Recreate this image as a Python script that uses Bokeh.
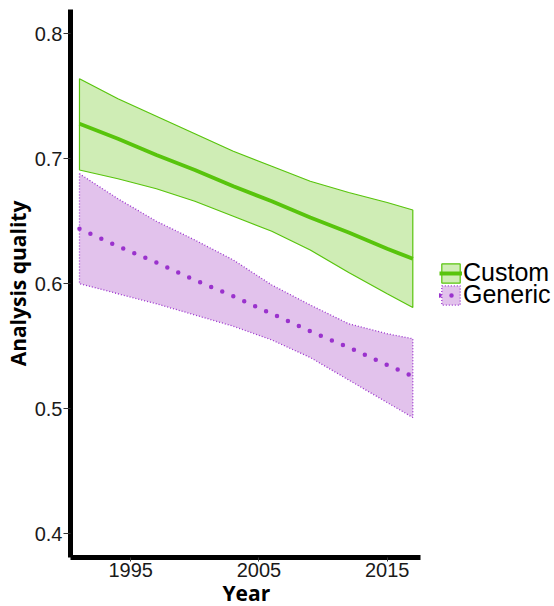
from bokeh.plotting import figure
from bokeh.models import Range1d, FixedTicker, Legend, LegendItem, Title
from bokeh.embed import file_html
from bokeh.resources import INLINE

years = [1991, 1994, 1997, 2000, 2003, 2006, 2009, 2012, 2015, 2017]
custom_fit = [0.728, 0.716, 0.703, 0.691, 0.678, 0.666, 0.653, 0.641, 0.628, 0.620]
custom_upper = [0.764, 0.748, 0.734, 0.720, 0.706, 0.694, 0.682, 0.673, 0.665, 0.659]
custom_lower = [0.691, 0.684, 0.676, 0.666, 0.654, 0.642, 0.627, 0.609, 0.592, 0.581]
generic_fit = [0.644, 0.630, 0.617, 0.603, 0.590, 0.576, 0.562, 0.549, 0.535, 0.526]
generic_upper = [0.688, 0.668, 0.650, 0.635, 0.619, 0.599, 0.583, 0.568, 0.560, 0.556]
generic_lower = [0.600, 0.592, 0.584, 0.575, 0.566, 0.555, 0.541, 0.523, 0.505, 0.493]
x_ticks = [1995, 2005, 2015]
y_ticks = [0.4, 0.5, 0.6, 0.7, 0.8]

GREEN = "#58c40c"
GREEN_FILL = "#cfedb5"
PURPLE = "#9a32cd"
PURPLE_FILL = "#e2c2ec"
FONT = "Liberation Sans"
TITLE_FONT = "Open Sans"

X0, X1 = 1990.3, 2017.6      # panel extent along x
W_FIG, LEFT = 552, 70
px_per_year = 350 / (X1 - X0)
x_end = X0 + (W_FIG - LEFT) / px_per_year   # frame extends under the legend

p = figure(width=W_FIG, height=605, output_backend="svg", toolbar_location=None,
           x_range=Range1d(X0, x_end), y_range=Range1d(0.381, 0.8194),
           min_border_left=LEFT, min_border_right=0, min_border_top=9,
           min_border_bottom=48)
p.outline_line_color = None
p.xgrid.visible = False
p.ygrid.visible = False
p.background_fill_color = "white"

c_patch = p.patch(years + years[::-1], custom_upper + custom_lower[::-1],
                  fill_color=GREEN_FILL, line_color=GREEN, line_width=1.2)
g_patch = p.patch(years + years[::-1], generic_upper + generic_lower[::-1],
                  fill_color=PURPLE_FILL, line_color=PURPLE, line_width=1.3,
                  line_dash="1 2")
c_line = p.line(years, custom_fit, line_color=GREEN, line_width=4)
g_line = p.line(years, generic_fit, line_color=PURPLE, line_width=4.5,
                line_dash="0 12", line_cap="round")

for ax in (p.xaxis[0], p.yaxis[0]):
    ax.axis_line_width = 5
    ax.axis_line_color = "black"
    ax.major_tick_line_color = "#333333"
    ax.major_tick_line_width = 1
    ax.major_tick_in = 0
    ax.minor_tick_line_color = None
    ax.major_label_text_font = FONT
    ax.major_label_text_font_size = "20px"
    ax.major_label_text_color = "#1a1a1a"
    ax.axis_label_text_font = TITLE_FONT
    ax.axis_label_text_font_style = "bold"
    ax.axis_label_text_font_size = "21px"
    ax.axis_label_text_color = "black"

p.xaxis.bounds = (X0, X1)
p.xaxis.ticker = FixedTicker(ticks=x_ticks)
p.yaxis.ticker = FixedTicker(ticks=y_ticks)
p.xaxis.major_tick_out = 4
p.yaxis.major_tick_out = 7
p.xaxis.major_label_standoff = 1
p.yaxis.major_label_standoff = 1
p.yaxis.axis_label = "Analysis quality"
p.yaxis.axis_label_standoff = 0

p.add_layout(Title(text="Year", align="left", offset=152, standoff=-6,
                   text_font=TITLE_FONT, text_font_style="bold",
                   text_font_size="21px", text_color="black"), "below")

common = dict(padding=0, margin=0, glyph_width=23, glyph_height=24,
              label_standoff=1, label_height=20, label_text_font=FONT,
              label_text_font_size="25px", label_text_color="black",
              border_line_color=None, background_fill_alpha=0)
legend_c = Legend(items=[LegendItem(label="Custom", renderers=[c_patch, c_line])],
                  location=(369, 270), **common)
legend_g = Legend(items=[LegendItem(label="Generic", renderers=[g_patch, g_line])],
                  location=(369, 248), **common)
p.add_layout(legend_c)
p.add_layout(legend_g)

open("out.html", "w").write(file_html(p, INLINE))
